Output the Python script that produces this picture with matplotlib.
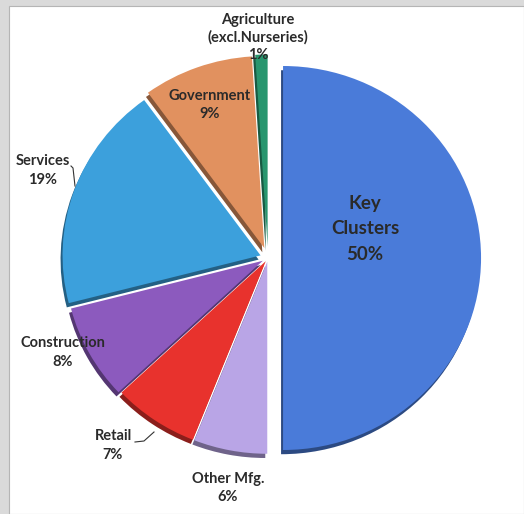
import matplotlib.pyplot as plt
from matplotlib.colors import to_rgb
from matplotlib.patches import Rectangle

plt.rcParams["font.family"] = ["Lato", "DejaVu Sans"]

# 数据: 按顺时针从 12 点方向开始
sectors = ["Key Clusters", "Other Mfg.", "Retail", "Construction",
           "Services", "Government", "Agriculture (excl.Nurseries)"]
shares = [50, 6, 7, 8, 19, 9, 1]
colors = ["#4a7bd9", "#b9a5e6", "#e8322d", "#8c5abe", "#3ca0dc", "#e1915f", "#28966e"]
explode = [0.076, 0.02, 0.02, 0.03, 0.04, 0.055, 0.06]

W, H = 524, 514
CX, CY = 268, 258
RX, RY = 198, 192  # 照片略有横向拉伸


def px(x, y):
    """像素坐标 -> 数据坐标"""
    return (x - CX) / RX, (CY - y) / RY


fig = plt.figure(figsize=(W / 100, H / 100), dpi=100)
fig.patch.set_facecolor("#dadada")
ax = fig.add_axes([0, 0, 1, 1])

# 白色幻灯片底
x0, y0 = px(9, H)
x1, y1 = px(W, 6)
ax.add_patch(Rectangle((x0, y0), x1 - x0, y1 - y0, facecolor="white", edgecolor="#b5b5b5",
                       linewidth=0.8, zorder=0))

# 立体侧面(深色, 向下偏移)
dark = [tuple(c * 0.6 for c in to_rgb(col)) for col in colors]
ax.pie(shares, colors=dark, explode=explode, startangle=90, counterclock=False,
       radius=1, center=(-0.01, -0.022), wedgeprops=dict(linewidth=0))
ax.pie(shares, colors=colors, explode=explode, startangle=90, counterclock=False,
       radius=1, wedgeprops=dict(linewidth=0))

ax.set_xlim(-CX / RX, (W - CX) / RX)
ax.set_ylim((CY - H) / RY, CY / RY)
ax.set_aspect("auto")
ax.axis("off")

txt = dict(ha="center", va="center", color="#2a2a2a", fontweight="bold", fontsize=10.5)


def label(x, y, s, **kw):
    opts = dict(txt)
    opts.update(kw)
    ax.text(*px(x, y), s, **opts)


label(365, 204, "Key", fontsize=13.5)
label(365, 229, "Clusters", fontsize=13.5)
label(365, 255, f"{shares[0]}%", fontsize=13.5)

label(228, 479, "Other Mfg.")
label(228, 497, f"{shares[1]}%")
label(113, 436, "Retail")
label(113, 455, f"{shares[2]}%")
label(63, 343, "Construction")
label(63, 362, f"{shares[3]}%")
label(43, 161, "Services")
label(43, 180, f"{shares[4]}%")
label(210, 96, "Government")
label(210, 114, f"{shares[5]}%")
label(258, 20, "Agriculture")
label(258, 37, "(excl.Nurseries)")
label(258, 55, f"{shares[6]}%")

# 引导线
for pts in ([(71, 166), (73, 168), (75, 186)], [(135, 442), (144, 441), (154, 432)]):
    xs, ys = zip(*[px(a, b) for a, b in pts])
    ax.plot(xs, ys, color="#333333", linewidth=0.8)

plt.savefig("out.png", dpi=100)
